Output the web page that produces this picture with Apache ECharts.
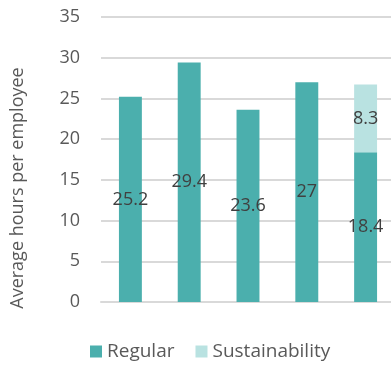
<!DOCTYPE html>
<html>
<head>
<meta charset="utf-8">
<script src="https://cdn.jsdelivr.net/npm/echarts@6/dist/echarts.min.js"></script>
<style>
  html, body { margin: 0; padding: 0; background: #fff; }
  #chart { width: 391px; height: 366px; }
</style>
</head>
<body>
<div id="chart"></div>
<script>
// Average training hours per employee, five periods
const categories = ['A', 'B', 'C', 'D', 'E'];
const regularHours = [25.2, 29.4, 23.6, 27, 18.4];
const sustainabilityHours = [null, null, null, null, 8.3];
const yTicks = { min: 0, max: 35, interval: 5 };

const FONT = '"Open Sans", sans-serif';
const TEXT = '#404040';

const chart = echarts.init(document.getElementById('chart'), null, { renderer: 'canvas' });

const labelStyle = {
  show: true,
  position: 'inside',
  color: TEXT,
  fontFamily: FONT,
  fontSize: 18,
  formatter: p => (p.value == null ? '' : String(p.value))
};

chart.setOption({
  animation: false,
  grid: {
    left: 101, top: 17, right: -4, bottom: 64,
    containLabel: false,
    outerBoundsMode: 'none'
  },
  xAxis: {
    type: 'category',
    data: categories,
    axisLine: { show: true, lineStyle: { color: '#d9d9d9', width: 2 } },
    axisTick: { show: false },
    axisLabel: { show: false }
  },
  yAxis: {
    type: 'value',
    min: yTicks.min,
    max: yTicks.max,
    interval: yTicks.interval,
    axisLine: { show: false },
    axisTick: { show: false },
    axisLabel: { color: '#595959', fontFamily: FONT, fontSize: 18, margin: 21 },
    splitLine: { lineStyle: { color: '#d9d9d9', width: 2 } }
  },
  legend: {
    bottom: 0,
    left: 85,
    itemWidth: 12,
    itemHeight: 12,
    itemGap: 21,
    icon: 'rect',
    textStyle: { color: '#595959', fontFamily: FONT, fontSize: 19 },
    data: ['Regular', 'Sustainability']
  },
  graphic: [{
    type: 'text',
    x: 18,
    y: 188,
    rotation: Math.PI / 2,
    style: {
      text: 'Average hours per employee',
      fill: '#595959',
      font: '18px ' + FONT,
      align: 'center',
      verticalAlign: 'middle'
    }
  }],
  series: [
    {
      name: 'Regular',
      type: 'bar',
      stack: 'hours',
      barWidth: '39%',
      data: regularHours,
      itemStyle: { color: '#4bafad' },
      label: labelStyle
    },
    {
      name: 'Sustainability',
      type: 'bar',
      stack: 'hours',
      barWidth: '39%',
      data: sustainabilityHours,
      itemStyle: { color: '#b9e2e1' },
      label: labelStyle
    }
  ]
});
</script>
</body>
</html>
